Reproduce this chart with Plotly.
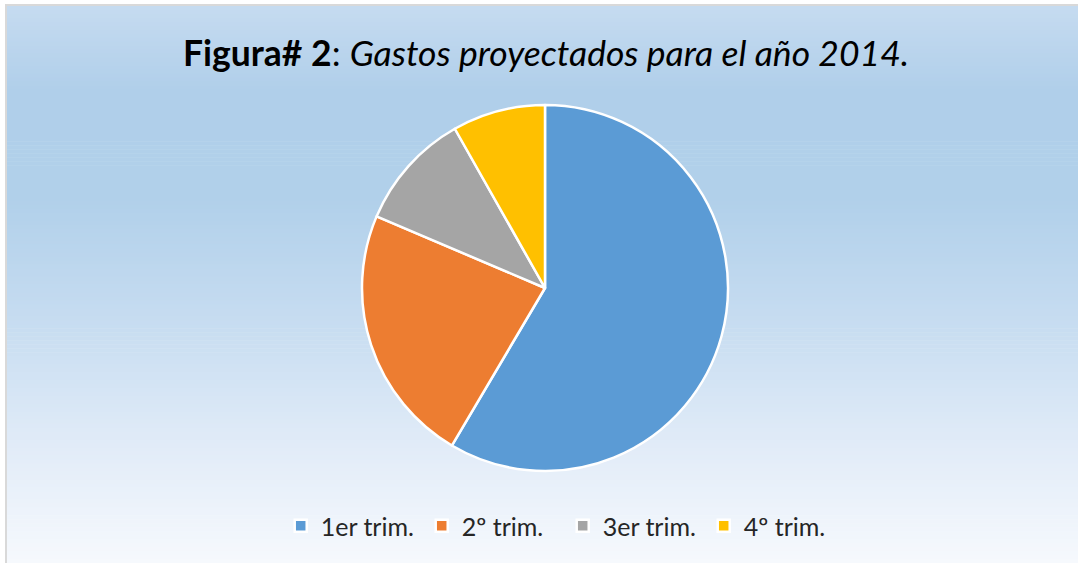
import plotly.graph_objects as go
import numpy as np

# Data
categories = ["1er trim.", "2º trim.", "3er trim.", "4º trim."]
values = [58.5, 22.9, 10.4, 8.2]
colors = ["#5B9BD5", "#ED7D31", "#A5A5A5", "#FFC000"]

W, H = 1078, 563

fig = go.Figure()
fig.add_trace(go.Pie(
    labels=categories,
    values=values,
    sort=False,
    direction="clockwise",
    rotation=0,
    marker=dict(colors=colors, line=dict(color="white", width=2.5)),
    textinfo="none",
    hoverinfo="label+value",
    domain=dict(x=[(545 - 183) / W, (545 + 183) / W], y=[1 - 471 / H, 1 - 105 / H]),
))

# Background gradient (styling)
stops_y = [6, 90, 200, 330, 450, 563]
stops_c = [(198, 219, 240), (176, 207, 234), (177, 208, 234), (200, 221, 241), (226, 236, 248), (246, 249, 253)]
shapes = []
n = 140
x0 = 7
for i in range(n):
    ya = 6 + (H - 6) * i / n
    yb = 6 + (H - 6) * (i + 1) / n + 0.6
    ym = (ya + yb) / 2
    c = [int(round(np.interp(ym, stops_y, [s[k] for s in stops_c]))) for k in range(3)]
    shapes.append(dict(type="rect", xref="paper", yref="paper",
                       x0=x0 / W, x1=1.0, y0=1 - yb / H, y1=1 - ya / H,
                       fillcolor=f"rgb({c[0]},{c[1]},{c[2]})", line=dict(width=0), layer="below"))
# Border lines
shapes.append(dict(type="line", xref="paper", yref="paper", x0=6 / W, x1=6 / W, y0=0, y1=1 - 5 / H,
                   line=dict(color="#d9d9d9", width=2), layer="below"))
shapes.append(dict(type="line", xref="paper", yref="paper", x0=5 / W, x1=1, y0=1 - 5 / H, y1=1 - 5 / H,
                   line=dict(color="#d9d9d9", width=2), layer="below"))

fig.update_layout(
    width=W, height=H,
    margin=dict(l=0, r=0, t=0, b=0),
    paper_bgcolor="white",
    plot_bgcolor="white",
    shapes=shapes,
    showlegend=True,
    legend=dict(orientation="h", x=0.522, xanchor="center", y=1 - 526 / H, yanchor="middle",
                font=dict(family="Lato", size=25, color="#262626"), bgcolor="rgba(0,0,0,0)",
                traceorder="normal", entrywidth=96, entrywidthmode="pixels"),
    annotations=[dict(
        text="<b>Figura# 2</b>: <i>Gastos proyectados para el año 2014.</i>",
        xref="paper", yref="paper", x=545.5 / W, y=1 - 52 / H, xanchor="center", yanchor="middle",
        showarrow=False, font=dict(family="Lato", size=35.5, color="black"))],
)

fig.write_html("out.html", config={"displayModeBar": False},
               post_script="document.body.style.margin='0';document.body.style.overflow='hidden';")
